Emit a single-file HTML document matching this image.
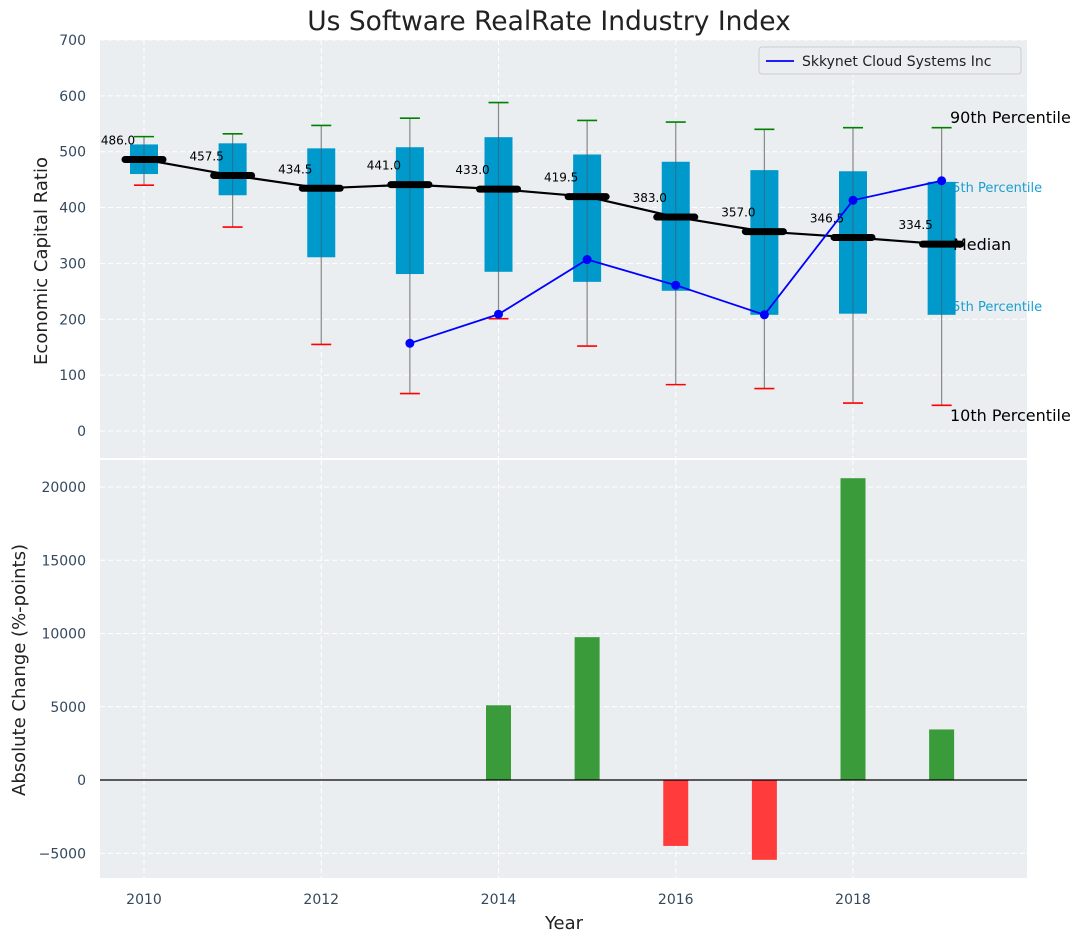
<!DOCTYPE html>
<html><head><meta charset="utf-8">
<style>
body{margin:0;background:#fff;}
svg{display:block;font-family:"DejaVu Sans","Liberation Sans",sans-serif;}
</style></head>
<body>
<svg id="chart" width="1085" height="942" xmlns="http://www.w3.org/2000/svg"></svg>
<script>
const years = [2010,2011,2012,2013,2014,2015,2016,2017,2018,2019];
const p10 = [440,365,155,67,201,152,83,76,50,46];
const p25 = [460,422,311,281,285,267,251,208,210,208];
const medians = [486.0,457.5,434.5,441.0,433.0,419.5,383.0,357.0,346.5,334.5];
const p75 = [513,515,506,508,526,495,482,467,465,446];
const p90 = [527,532,547,560,588,556,553,540,543,543];
const companyYears = [2013,2014,2015,2016,2017,2018,2019];
const companyValues = [157,209,307,261,208,413,448];
const changeYears = [2014,2015,2016,2017,2018,2019];
const changeValues = [5100,9750,-4500,-5450,20600,3450];
const topTicks = [0,100,200,300,400,500,600,700];
const bottomTicks = [-5000,0,5000,10000,15000,20000];
const xTicks = [2010,2012,2014,2016,2018];

const svg = document.getElementById('chart');
const NS = 'http://www.w3.org/2000/svg';
function el(tag, attrs, parent){const e=document.createElementNS(NS,tag);for(const k in attrs)e.setAttribute(k,attrs[k]);(parent||svg).appendChild(e);return e;}
function txt(s, attrs, parent){const e=el('text',attrs,parent);e.textContent=s;return e;}

const L=100,R=1027;
const X = v => 144 + (v-2010)*88.625;
const Y1 = v => 431 - v*0.5586;
const Y2 = v => 780 - v*0.01465;
const T1=40,B1=458,T2=460,B2=878;

const title=txt('Us Software RealRate Industry Index',{x:549,y:30,'text-anchor':'middle','font-size':26.5,fill:'#222'});



const topG=el('g',{});


el('rect',{x:L,y:T1,width:R-L,height:B1-T1,fill:'#eaeef0'},topG);
topTicks.forEach(t=>{
  el('line',{x1:L,x2:R,y1:Y1(t),y2:Y1(t),stroke:'#fff','stroke-dasharray':'5,3','stroke-width':1},topG);
  const lb=txt(String(t),{x:86,y:Y1(t)+5,'text-anchor':'end','font-size':14,fill:'#34495e'},topG);
  
  
});
xTicks.forEach(t=>el('line',{x1:X(t),x2:X(t),y1:T1,y2:B1,stroke:'#fff','stroke-dasharray':'5,3'},topG));
const yt1=txt('Economic Capital Ratio',{transform:'translate(47,261) rotate(-90)','text-anchor':'middle','font-size':18,fill:'#222'});



const rl=[['90th Percentile',950,123,16,'#000'],['75th Percentile',944,192,13,'#1a9fd0'],['25th Percentile',944,311,13,'#1a9fd0'],['10th Percentile',950,421,16,'#000']];
rl.forEach(r=>{const t=txt(r[0],{x:r[1],y:r[2],'font-size':r[3],fill:r[4]});
  
  });

years.forEach((y,i)=>{
  const g=el('g',{});
  
  
  const cx=X(y);
  el('line',{x1:cx,x2:cx,y1:Y1(p90[i]),y2:Y1(p10[i]),stroke:'#888','stroke-width':1.2},g);
  el('rect',{x:cx-14,y:Y1(p75[i]),width:28,height:Y1(p25[i])-Y1(p75[i]),fill:'#0099cc'},g);
  el('line',{x1:cx,x2:cx,y1:Y1(p75[i]),y2:Y1(p25[i]),stroke:'#456','stroke-width':1,opacity:0.6},g);
  el('line',{x1:cx-10,x2:cx+10,y1:Y1(p90[i]),y2:Y1(p90[i]),stroke:'green','stroke-width':1.6},g);
  el('line',{x1:cx-10,x2:cx+10,y1:Y1(p10[i]),y2:Y1(p10[i]),stroke:'red','stroke-width':1.6},g);
});
const mt=txt('Median',{x:953,y:250,'font-size':16,fill:'#000'});


const mpts=years.map((y,i)=>X(y)+','+Y1(medians[i])).join(' ');
const ml=el('polyline',{points:mpts,fill:'none',stroke:'#000','stroke-width':2.2});


years.forEach((y,i)=>{
  const m=el('line',{x1:X(y)-19,x2:X(y)+19,y1:Y1(medians[i]),y2:Y1(medians[i]),stroke:'#000','stroke-width':7,'stroke-linecap':'round'});
  
  
  const t=txt(medians[i].toFixed(1),{x:X(y)-26,y:Y1(medians[i])-15,'text-anchor':'middle','font-size':12,fill:'#000'});
  
  
});
const cpts=companyYears.map((y,i)=>X(y)+','+Y1(companyValues[i])).join(' ');
const cl=el('polyline',{points:cpts,fill:'none',stroke:'#0000ff','stroke-width':1.8});


companyYears.forEach((y,i)=>{
  const c=el('circle',{cx:X(y),cy:Y1(companyValues[i]),r:4.5,fill:'#0000ff'});
  
  
});
const lg=el('g',{});


el('rect',{x:759,y:47,width:262,height:27,rx:3,fill:'#eaeef0',stroke:'#ccc'},lg);
el('line',{x1:766,x2:794,y1:61,y2:61,stroke:'#0000ff','stroke-width':1.8},lg);
txt('Skkynet Cloud Systems Inc',{x:802,y:66,'font-size':14,fill:'#222'},lg);

const botG=el('g',{});


el('rect',{x:L,y:T2,width:R-L,height:B2-T2,fill:'#eaeef0'},botG);
bottomTicks.forEach(t=>{
  el('line',{x1:L,x2:R,y1:Y2(t),y2:Y2(t),stroke:'#fff','stroke-dasharray':'5,3'},botG);
  const lb=txt(t<0?'\u2212'+Math.abs(t):String(t),{x:86,y:Y2(t)+5,'text-anchor':'end','font-size':14,fill:'#34495e'},botG);
  
  
});
xTicks.forEach(t=>{
  el('line',{x1:X(t),x2:X(t),y1:T2,y2:B2,stroke:'#fff','stroke-dasharray':'5,3'},botG);
  const lb=txt(String(t),{x:X(t),y:904,'text-anchor':'middle','font-size':14,fill:'#34495e'},botG);
  
  
});
changeYears.forEach((y,i)=>{
  const v=changeValues[i];
  const b=el('rect',{x:X(y)-12.5,y:Math.min(Y2(v),Y2(0)),width:25,height:Math.abs(Y2(v)-Y2(0)),fill:v>=0?'#3a9b3a':'#ff3b3b'});
  
  
});
el('line',{x1:L,x2:R,y1:Y2(0),y2:Y2(0),stroke:'#000','stroke-width':1.2});
const yt2=txt('Absolute Change (%-points)',{transform:'translate(25,670) rotate(-90)','text-anchor':'middle','font-size':18,fill:'#222'});


const xt=txt('Year',{x:564,y:929,'text-anchor':'middle','font-size':18,fill:'#222'});


</script>
</body></html>
